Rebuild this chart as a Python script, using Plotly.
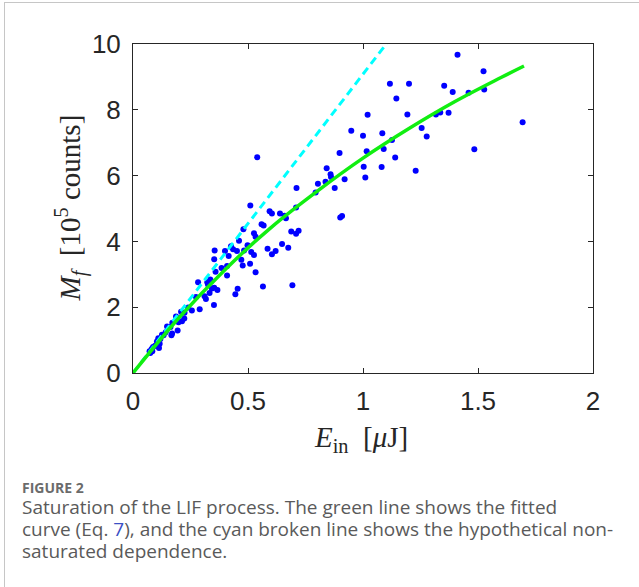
import plotly.graph_objects as go

# Measured data: input energy [uJ] and fluorescence counts [1e5 counts]
E_meas = [0.510, 0.709, 0.594, 0.604, 0.639, 0.659, 0.665, 0.901, 0.909, 0.559,
          0.568, 0.480, 0.526, 0.533, 0.688, 0.709, 0.720, 0.461, 0.648, 0.498,
          0.675, 0.585, 0.426, 0.435, 0.400, 0.452, 0.355, 0.483, 0.514, 0.526,
          0.620, 0.604, 0.416, 0.353, 0.471, 0.509, 0.409, 0.385, 0.477, 0.359,
          0.533, 0.409, 0.283, 0.323, 0.336, 0.340, 0.326, 0.343, 0.353, 0.367,
          0.333, 0.565, 0.693, 0.455, 0.445, 0.274, 0.311, 0.317, 0.352, 0.290,
          0.256, 0.240, 0.209, 0.224, 0.223, 0.187, 0.193, 0.171, 0.198, 0.213,
          0.148, 0.163, 0.194, 0.170, 0.167, 0.142, 0.133, 0.126, 0.110, 0.119,
          0.104, 0.116, 0.096, 0.113, 0.087, 0.081, 0.072, 0.084, 0.075,
          0.540, 0.711, 0.804, 0.794, 0.837, 0.842, 0.859, 0.861, 0.877, 0.920,
          0.898, 0.949, 1.000, 1.020, 1.016, 1.003, 1.010, 1.411, 1.524, 1.117,
          1.200, 1.353, 1.390, 1.459, 1.527, 1.145, 1.193, 1.317, 1.336, 1.372,
          1.694, 1.084, 1.126, 1.255, 1.277, 1.090, 1.140, 1.484, 1.081, 1.229]
M_meas = [5.09, 5.03, 4.92, 4.85, 4.85, 4.78, 4.70, 4.73, 4.77, 4.52,
          4.48, 4.37, 4.25, 4.14, 4.30, 4.23, 4.32, 4.02, 3.92, 3.88,
          3.81, 3.78, 3.85, 3.76, 3.71, 3.71, 3.72, 3.72, 3.68, 3.59,
          3.71, 3.61, 3.56, 3.46, 3.44, 3.32, 3.25, 3.19, 3.27, 3.08,
          3.06, 2.96, 2.76, 2.76, 2.84, 2.79, 2.69, 2.57, 2.59, 2.52,
          2.43, 2.63, 2.67, 2.56, 2.39, 2.31, 2.33, 2.25, 2.07, 1.94,
          1.90, 1.99, 1.86, 1.83, 1.66, 1.72, 1.58, 1.53, 1.54, 1.57,
          1.41, 1.40, 1.29, 1.20, 1.15, 1.24, 1.15, 1.16, 1.06, 1.03,
          0.96, 0.89, 0.83, 0.76, 0.79, 0.73, 0.66, 0.66, 0.61,
          6.56, 5.62, 5.75, 5.49, 5.81, 6.22, 6.04, 5.96, 5.62, 5.89,
          6.69, 7.36, 7.21, 7.85, 6.74, 6.27, 5.94, 9.67, 9.17, 8.79,
          8.79, 8.73, 8.54, 8.52, 8.62, 8.34, 7.86, 7.86, 7.92, 7.91,
          7.62, 7.29, 7.08, 7.45, 7.19, 6.81, 6.55, 6.80, 6.26, 6.15]

# Fitted curve (green)
E_fit = [0, 0.2, 0.4, 0.6, 0.8, 1.0, 1.2, 1.4, 1.6, 1.7]
M_fit = [0, 1.68, 3.14, 4.42, 5.52, 6.53, 7.43, 8.25, 8.98, 9.33]

# Hypothetical non-saturated dependence (cyan dashed)
E_lin = [0, 1.2]
M_lin = [0, 10.9]

x_ticks = [0, 0.5, 1, 1.5, 2]
y_ticks = [0, 2, 4, 6, 8, 10]

caption_lines = [
    "Saturation of the LIF process. The green line shows the fitted",
    "curve (Eq. <span style='color:#3b4fc4'>7</span>), and the cyan broken line shows the hypothetical non-",
    "saturated dependence.",
]

fig = go.Figure()
fig.add_trace(go.Scatter(x=E_meas, y=M_meas, mode="markers",
                         marker=dict(color="#0000ff", size=6, line=dict(width=0)),
                         showlegend=False))
fig.add_trace(go.Scatter(x=E_lin, y=M_lin, mode="lines",
                         line=dict(color="#00ffff", width=3, dash="8px,5px"),
                         showlegend=False))
fig.add_trace(go.Scatter(x=E_fit, y=M_fit, mode="lines",
                         line=dict(color="#11ee11", width=3.5, shape="spline"),
                         showlegend=False))

L, R, T, B = 132.7, 592.7, 44.0, 372.7
W, H = 639, 587
pw, ph = R - L, B - T

def px(x):
    return (x - L) / pw

def py(y):
    return (B - y) / ph

axis_common = dict(showgrid=False, zeroline=False, showline=True, linecolor="#262626",
                   linewidth=1, mirror="ticks", ticks="inside", ticklen=5,
                   tickcolor="#262626", tickwidth=1,
                   tickfont=dict(family="Liberation Sans, Arial, sans-serif", size=26, color="#262626"))

fig.update_xaxes(range=[0, 2], tickvals=x_ticks, ticktext=[str(v) for v in x_ticks],
                 ticklabelstandoff=5, **axis_common)
fig.update_yaxes(range=[0, 10], tickvals=y_ticks, ticktext=[str(v) for v in y_ticks],
                 ticklabelstandoff=6, **axis_common)

serif = "Liberation Serif, Times New Roman, serif"
cap_font = "Open Sans, Noto Sans, sans-serif"
caption_text = "<br>".join("<span style='font-size:19px'>" + s + "</span>" for s in caption_lines)
annotations = [
    dict(x=px(361), y=py(439), xref="paper", yref="paper",
         text="<i>E</i><sub>in</sub>&nbsp;&nbsp;[<i>μ</i>J]", showarrow=False,
         font=dict(family=serif, size=29, color="#262626"),
         xanchor="center", yanchor="middle"),
    dict(x=px(70), y=py(208), xref="paper", yref="paper",
         text="<i>M<sub>f</sub></i>&nbsp;&nbsp;[10<sup>5</sup>&nbsp;counts]", showarrow=False,
         textangle=-90, font=dict(family=serif, size=29, color="#262626"),
         xanchor="center", yanchor="middle"),
    dict(x=px(20), y=py(487), xref="paper", yref="paper",
         text="<b>FIGURE 2</b>", showarrow=False,
         font=dict(family=cap_font, size=14, color="#6b6b6b"),
         xanchor="left", yanchor="middle"),
    dict(x=px(20), y=py(529), xref="paper", yref="paper",
         text=caption_text,
         showarrow=False, align="left",
         font=dict(family=cap_font, size=17, color="#5a5a5a"),
         xanchor="left", yanchor="middle"),
]

fig.update_layout(width=W, height=H, autosize=False,
                  margin=dict(l=L, r=W - R, t=T, b=H - B, pad=0),
                  paper_bgcolor="white", plot_bgcolor="white",
                  annotations=annotations, showlegend=False)

post = (
    "document.body.style.margin='0';"
    "document.body.style.overflow='hidden';"
    "var f=document.createElement('div');"
    "f.style.cssText='position:absolute;left:4px;top:2px;width:700px;height:700px;"
    "border-left:1.5px solid #c6c6c6;border-top:1.5px solid #c6c6c6;pointer-events:none;z-index:10;';"
    "document.body.appendChild(f);"
)
fig.write_html("out.html", config={"displayModeBar": False}, post_script=post)
